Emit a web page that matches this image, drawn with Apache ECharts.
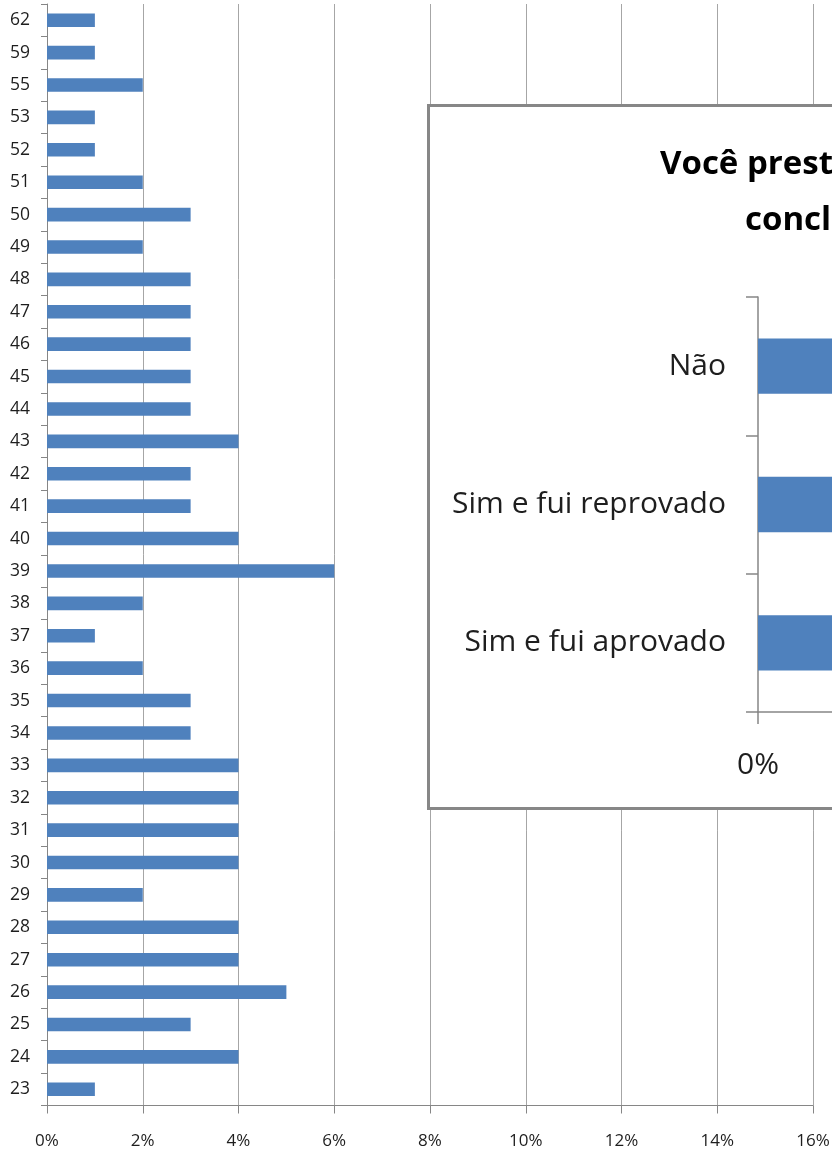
<!DOCTYPE html>
<html>
<head>
<meta charset="utf-8">
<script src="https://cdn.jsdelivr.net/npm/echarts@6/dist/echarts.min.js"></script>
<style>
html,body{margin:0;padding:0;background:#fff;overflow:hidden}
#c{width:832px;height:1151px}
</style>
</head>
<body>
<div id="c"></div>
<script>
// Main chart: age distribution (bottom to top)
const ages = ['23','24','25','26','27','28','29','30','31','32','33','34','35','36','37','38','39','40','41','42','43','44','45','46','47','48','49','50','51','52','53','55','59','62'];
const ageShares = [1,4,3,5,4,4,2,4,4,4,4,3,3,2,1,2,6,4,3,3,4,3,3,3,3,3,2,3,2,1,1,2,1,1];
const xMin = 0;
const xMax = 16;
const xStep = 2;

// Inset chart (partially visible)
const insetTitleLines = ['Você prestou concurso público após a', 'conclusão do curso?'];
const insetCategories = ['Sim e fui aprovado', 'Sim e fui reprovado', 'Não'];
const insetShares = [20, 18, 62];
const insetMax = 70;
const insetStep = 10;

const FONT = 'Open Sans';
const BLUE = '#4f81bd';
const AXIS = '#868686';
const GRID = '#a6a6a6';
const TXT = '#1e1e1e';

const chart = echarts.init(document.getElementById('c'), null, {renderer: 'canvas'});

chart.setOption({
  animation: false,
  backgroundColor: '#ffffff',
  title: [
    {
      text: insetTitleLines[0], left: 660, top: 145, padding: 0, z: 120,
      textStyle: {fontFamily: FONT, fontSize: 33, fontWeight: 'bold', color: '#000', lineHeight: 40}
    },
    {
      text: insetTitleLines[1], left: 745, top: 201, padding: 0, z: 120,
      textStyle: {fontFamily: FONT, fontSize: 33, fontWeight: 'bold', color: '#000', lineHeight: 40}
    }
  ],
  graphic: [
    {
      type: 'rect', z: 100,
      shape: {x: 428.5, y: 105.5, width: 900, height: 703},
      style: {fill: '#ffffff', stroke: '#878787', lineWidth: 3}
    }
  ],
  grid: [
    {left: 47, right: 19, top: 4, bottom: 45.5, containLabel: false, outerBoundsMode: 'none'},
    {left: 758, top: 297, width: 800, height: 415, containLabel: false, outerBoundsMode: 'none'}
  ],
  xAxis: [
    {
      type: 'value', gridIndex: 0, min: xMin, max: xMax, interval: xStep,
      axisLine: {show: true, lineStyle: {color: AXIS, width: 1}},
      axisTick: {show: true, length: 8, lineStyle: {color: AXIS}},
      splitLine: {show: true, lineStyle: {color: GRID, width: 1}},
      axisLabel: {formatter: '{value}%', fontFamily: FONT, fontSize: 17, color: TXT, margin: 27}
    },
    {
      type: 'value', gridIndex: 1, min: 0, max: insetMax, interval: insetStep, z: 120,
      axisLine: {show: true, lineStyle: {color: AXIS, width: 1.5}},
      axisTick: {show: true, length: 12, lineStyle: {color: AXIS, width: 1.5}},
      splitLine: {show: false},
      axisLabel: {formatter: '{value}%', fontFamily: FONT, fontSize: 30, color: TXT, margin: 38}
    }
  ],
  yAxis: [
    {
      type: 'category', gridIndex: 0, data: ages,
      axisLine: {show: true, lineStyle: {color: AXIS, width: 1}},
      axisTick: {show: true, length: 6, alignWithLabel: false, lineStyle: {color: AXIS}},
      splitLine: {show: false},
      axisLabel: {fontFamily: FONT, fontSize: 17.5, color: TXT, margin: 17, interval: 0}
    },
    {
      type: 'category', gridIndex: 1, data: insetCategories, z: 120,
      axisLine: {show: true, lineStyle: {color: AXIS, width: 1.5}},
      axisTick: {show: true, length: 12, lineStyle: {color: AXIS, width: 1.5}},
      splitLine: {show: false},
      axisLabel: {fontFamily: FONT, fontSize: 30, color: TXT, margin: 32, interval: 0}
    }
  ],
  series: [
    {
      type: 'bar', xAxisIndex: 0, yAxisIndex: 0, data: ageShares,
      barWidth: '42%', itemStyle: {color: BLUE}, z: 2, silent: true
    },
    {
      type: 'bar', xAxisIndex: 1, yAxisIndex: 1, data: insetShares,
      barWidth: '40%', itemStyle: {color: BLUE}, z: 120, silent: true
    }
  ]
});
</script>
</body>
</html>
